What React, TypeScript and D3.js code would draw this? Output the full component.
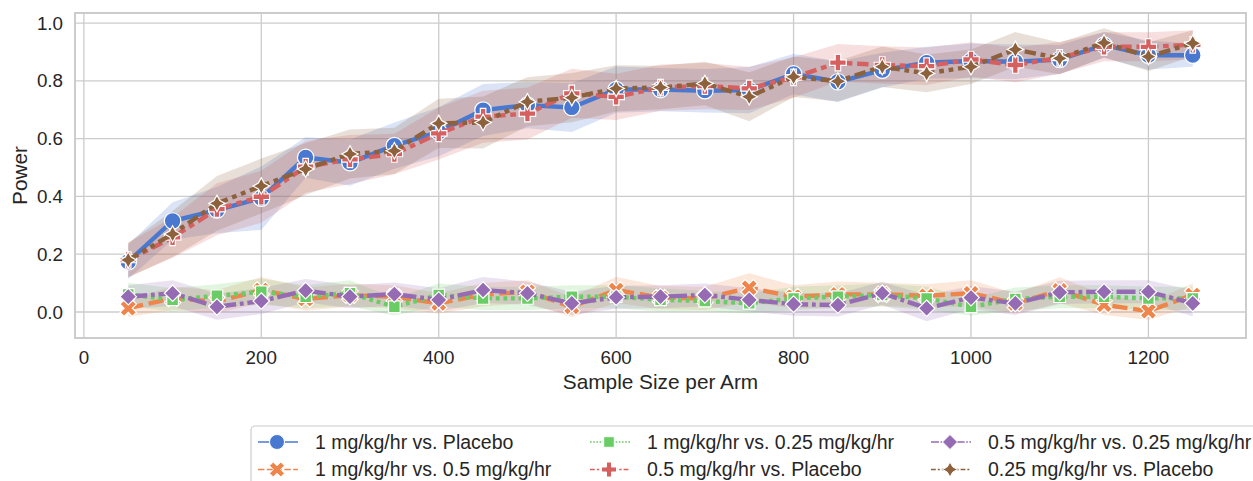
import React from "react";
import * as d3 from "d3";

const sampleSizes = [50,100,150,200,250,300,350,400,450,500,550,600,650,700,750,800,850,900,950,1000,1050,1100,1150,1200,1250];

const seriesNames = [
  "1 mg/kg/hr vs. Placebo",
  "1 mg/kg/hr vs. 0.5 mg/kg/hr",
  "1 mg/kg/hr vs. 0.25 mg/kg/hr",
  "0.5 mg/kg/hr vs. Placebo",
  "0.5 mg/kg/hr vs. 0.25 mg/kg/hr",
  "0.25 mg/kg/hr vs. Placebo",
];

const powerBlue = [0.174,0.315,0.353,0.394,0.535,0.517,0.576,0.624,0.699,0.716,0.708,0.77,0.77,0.766,0.768,0.824,0.797,0.837,0.863,0.869,0.866,0.874,0.924,0.889,0.889];
const powerOrange = [0.013,0.047,0.036,0.076,0.045,0.058,0.053,0.03,0.06,0.07,0.018,0.076,0.05,0.047,0.084,0.053,0.061,0.061,0.056,0.065,0.03,0.075,0.025,0.003,0.059];
const powerGreen = [0.061,0.042,0.056,0.07,0.053,0.065,0.018,0.059,0.047,0.047,0.053,0.053,0.042,0.038,0.03,0.047,0.053,0.059,0.047,0.018,0.045,0.053,0.053,0.047,0.047];
const powerRed = [0.18,0.258,0.356,0.399,0.503,0.528,0.547,0.618,0.676,0.687,0.757,0.745,0.777,0.782,0.774,0.812,0.863,0.855,0.851,0.874,0.855,0.88,0.918,0.918,0.925];
const powerPurple = [0.053,0.065,0.018,0.038,0.074,0.053,0.062,0.042,0.076,0.065,0.03,0.051,0.053,0.059,0.042,0.027,0.024,0.065,0.013,0.05,0.03,0.068,0.07,0.07,0.03];
const powerBrown = [0.18,0.27,0.376,0.436,0.495,0.547,0.558,0.653,0.656,0.728,0.742,0.774,0.777,0.791,0.745,0.814,0.799,0.849,0.826,0.849,0.909,0.878,0.932,0.884,0.93];

// 95% CI half-widths
const ciBlue = [0.06,0.065,0.08,0.11,0.07,0.08,0.08,0.085,0.09,0.08,0.085,0.08,0.075,0.075,0.08,0.07,0.07,0.06,0.055,0.06,0.06,0.05,0.045,0.05,0.04];
const ciOrange = [0.03,0.04,0.04,0.045,0.04,0.04,0.04,0.035,0.04,0.04,0.035,0.045,0.04,0.04,0.05,0.04,0.045,0.04,0.04,0.045,0.035,0.045,0.035,0.03,0.04];
const ciGreen = [0.04,0.04,0.04,0.045,0.04,0.045,0.03,0.04,0.04,0.04,0.04,0.04,0.04,0.035,0.035,0.04,0.04,0.04,0.04,0.03,0.04,0.04,0.04,0.04,0.04];
const ciRed = [0.06,0.07,0.09,0.09,0.09,0.085,0.07,0.09,0.09,0.09,0.085,0.08,0.08,0.08,0.075,0.07,0.065,0.065,0.065,0.06,0.06,0.055,0.05,0.05,0.05];
const ciPurple = [0.04,0.045,0.045,0.045,0.04,0.04,0.04,0.04,0.045,0.04,0.04,0.04,0.04,0.04,0.04,0.04,0.04,0.04,0.045,0.04,0.04,0.04,0.04,0.04,0.045];
const ciBrown = [0.06,0.08,0.095,0.095,0.09,0.085,0.08,0.085,0.09,0.085,0.085,0.08,0.075,0.075,0.085,0.07,0.07,0.07,0.065,0.06,0.06,0.055,0.05,0.05,0.045];

const xTicks = [0,200,400,600,800,1000,1200];
const yTicks = [0,0.2,0.4,0.6,0.8,1.0];

const colors = ["#4878d0","#ee854a","#6acc64","#d65f5f","#956cb4","#8c613c"];
const markers = ["circle","x","square","plus","diamond","star"];
const dashes: number[][] = [[],[4,1.5],[1,1],[3,1.25,1.5,1.25],[5,1,1,1],[3,1.25,1.25,1.25,1.25,1.25]];

const values = [powerBlue,powerOrange,powerGreen,powerRed,powerPurple,powerBrown];
const cis = [ciBlue,ciOrange,ciGreen,ciRed,ciPurple,ciBrown];

const FONT = "'Liberation Sans', Arial, Helvetica, sans-serif";
const TEXT = "#262626";

function markerPath(kind: string, m: number): string {
  const poly = (pts: number[][]) => "M" + pts.map(p => `${p[0].toFixed(2)},${p[1].toFixed(2)}`).join("L") + "Z";
  if (kind === "circle") {
    const r = m / 2;
    return `M${r},0A${r},${r} 0 1,1 ${-r},0A${r},${r} 0 1,1 ${r},0Z`;
  }
  if (kind === "x") {
    const p = [[-1,-2],[0,-1],[1,-2],[2,-1],[1,0],[2,1],[1,2],[0,1],[-1,2],[-2,1],[-1,0],[-2,-1]];
    return poly(p.map(([a,b]) => [a*m/4, b*m/4]));
  }
  if (kind === "plus") {
    const p = [[-1,-3],[1,-3],[1,-1],[3,-1],[3,1],[1,1],[1,3],[-1,3],[-1,1],[-3,1],[-3,-1],[-1,-1]];
    return poly(p.map(([a,b]) => [a*m/6, b*m/6]));
  }
  if (kind === "square") {
    const h = m / 2 / Math.SQRT2;
    return poly([[-h,-h],[h,-h],[h,h],[-h,h]]);
  }
  if (kind === "diamond") {
    const r = m / 2;
    return poly([[0,-r],[r,0],[0,r],[-r,0]]);
  }
  const ro = m / 2, ri = m / 4;
  const pts: number[][] = [];
  for (let i = 0; i < 8; i++) {
    const a = -Math.PI / 2 + i * Math.PI / 4;
    const r = i % 2 === 0 ? ro : ri;
    pts.push([r * Math.cos(a), r * Math.sin(a)]);
  }
  return poly(pts);
}

export default function App() {
  const W = 1253, H = 481;
  const L = 75, R = 1246, T = 13, B = 338;
  const x = d3.scaleLinear().domain([-10, 1310]).range([L, R]);
  const y = d3.scaleLinear().domain([-0.09, 1.035]).range([B, T]);

  const lw = 4.4, dashScale = 3.8, mSize = 16.5;

  const line = d3.line<number>().x((_, i) => x(sampleSizes[i])).y(d => y(d));
  const area = (v: number[], c: number[]) =>
    d3.area<number>()
      .x((_, i) => x(sampleSizes[i]))
      .y0((d, i) => y(d - c[i]))
      .y1((d, i) => y(d + c[i]))(v) || "";

  const legendCols = [258, 590, 931];
  const legendRows = [442, 469.5];

  return (
    <svg width={W} height={H} style={{ position: "absolute", left: 0, top: 0, background: "#fff" }}>
      <rect x={0} y={0} width={W} height={H} fill="#fff" />
      {xTicks.map(t => (
        <line key={"gx" + t} x1={x(t)} x2={x(t)} y1={T} y2={B} stroke="#cccccc" strokeWidth={1.3} />
      ))}
      {yTicks.map(t => (
        <line key={"gy" + t} x1={L} x2={R} y1={y(t)} y2={y(t)} stroke="#cccccc" strokeWidth={1.3} />
      ))}
      {values.map((v, s) => (
        <path key={"band" + s} d={area(v, cis[s])} fill={colors[s]} fillOpacity={0.2} stroke="none" />
      ))}
      {values.map((v, s) => (
        <g key={"ser" + s}>
          <path d={line(v) || ""} fill="none" stroke={colors[s]} strokeWidth={lw}
            strokeDasharray={dashes[s].length ? dashes[s].map(d => d * dashScale).join(",") : undefined}
            strokeLinejoin="round" />
          {v.map((val, i) => (
            <path key={i} d={markerPath(markers[s], mSize)}
              transform={`translate(${x(sampleSizes[i])},${y(val)})`}
              fill={colors[s]} stroke="#fff" strokeWidth={1.2} />
          ))}
        </g>
      ))}
      <rect x={L} y={T} width={R - L} height={B - T} fill="none" stroke="#cccccc" strokeWidth={2} />
      {yTicks.map(t => (
        <text key={"ty" + t} x={63} y={y(t)} dy="0.35em" textAnchor="end" fontFamily={FONT} fontSize={18.8} fill={TEXT}>
          {d3.format(".1f")(t)}
        </text>
      ))}
      {xTicks.map(t => (
        <text key={"tx" + t} x={x(t)} y={364} textAnchor="middle" fontFamily={FONT} fontSize={18.8} fill={TEXT}>
          {t}
        </text>
      ))}
      <text x={(L + R) / 2} y={389} textAnchor="middle" fontFamily={FONT} fontSize={20.8} fill={TEXT}>Sample Size per Arm</text>
      <text transform={`translate(27,${(T + B) / 2}) rotate(-90)`} textAnchor="middle" fontFamily={FONT} fontSize={20.8} fill={TEXT}>Power</text>
      <rect x={251} y={426} width={1020} height={70} rx={4} fill="#fff" fillOpacity={0.8} stroke="#cccccc" strokeWidth={1.2} />
      {seriesNames.map((name, s) => {
        const col = Math.floor(s / 2), row = s % 2;
        const hx = legendCols[col], hy = legendRows[row];
        return (
          <g key={"lg" + s}>
            <line x1={hx} x2={hx + 40} y1={hy} y2={hy} stroke={colors[s]} strokeWidth={1.6}
              strokeDasharray={dashes[s].length ? dashes[s].map(d => d * 1.6).join(",") : undefined} />
            <path d={markerPath(markers[s], 15)} transform={`translate(${hx + 19},${hy})`} fill={colors[s]} stroke="#fff" strokeWidth={1} />
            <text x={hx + 57} y={hy} dy="0.35em" fontFamily={FONT} fontSize={19.5} fill={TEXT}>{name}</text>
          </g>
        );
      })}
    </svg>
  );
}
